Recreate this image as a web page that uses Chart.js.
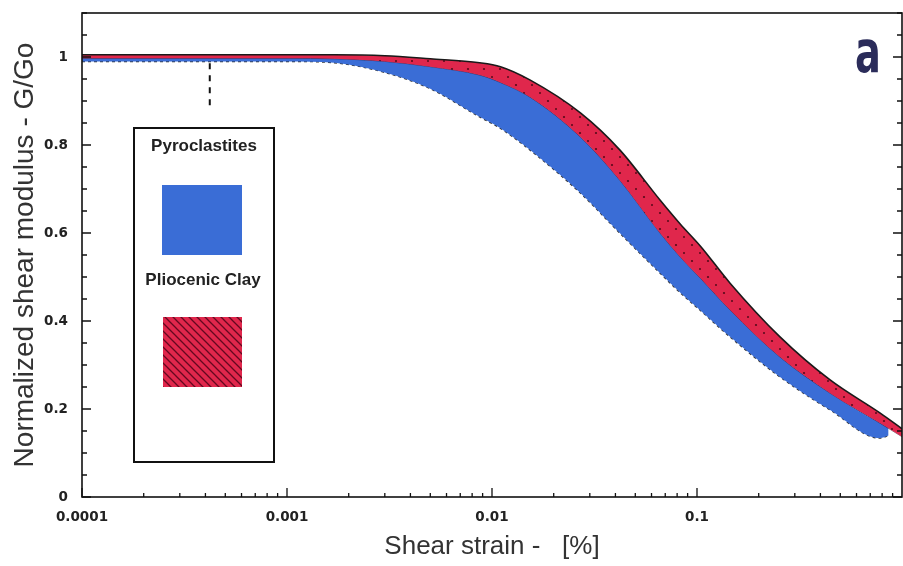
<!DOCTYPE html>
<html>
<head>
<meta charset="utf-8">
<script src="https://cdn.jsdelivr.net/npm/chart.js@4.4.0/dist/chart.umd.min.js"></script>
<style>
  html, body { margin: 0; padding: 0; background: #fff; }
  #wrap { width: 903px; height: 566px; }
</style>
</head>
<body>
<div id="wrap"><canvas id="chart" width="903" height="566"></canvas></div>
<script>
// Pliocenic clay band (red)
const clayStrain = [0.0001, 0.0003, 0.001, 0.0017, 0.003, 0.005, 0.0087, 0.011, 0.0153, 0.027, 0.042, 0.066, 0.083, 0.104, 0.145, 0.254, 0.446, 0.78, 1.0];
const clayUpper  = [1.005, 1.005, 1.005, 1.005, 1.003, 0.996, 0.987, 0.978, 0.948, 0.873, 0.789, 0.675, 0.62, 0.57, 0.486, 0.364, 0.266, 0.191, 0.155];
const clayLower  = [0.997, 0.997, 0.997, 0.996, 0.99, 0.978, 0.959, 0.942, 0.909, 0.818, 0.72, 0.60, 0.545, 0.497, 0.425, 0.318, 0.236, 0.168, 0.137];

// Pyroclastites band (blue)
const pyroStrain = [0.0001, 0.0003, 0.001, 0.0017, 0.003, 0.005, 0.0087, 0.011, 0.0153, 0.027, 0.042, 0.066, 0.083, 0.104, 0.145, 0.254, 0.446, 0.78, 0.86];
const pyroUpper  = [0.997, 0.997, 0.997, 0.996, 0.99, 0.978, 0.959, 0.942, 0.909, 0.818, 0.72, 0.60, 0.545, 0.497, 0.425, 0.318, 0.236, 0.168, 0.158];
const pyroLower  = [0.99, 0.99, 0.99, 0.987, 0.965, 0.928, 0.864, 0.838, 0.789, 0.691, 0.60, 0.509, 0.464, 0.424, 0.364, 0.273, 0.198, 0.134, 0.14];

// short dashed marker near the top left
const markerStrain = [0.00042, 0.00042];
const markerG      = [0.986, 0.879];

const xTicks = [0.0001, 0.001, 0.01, 0.1];
const xTickLabels = ['0.0001', '0.001', '0.01', '0.1'];
const yTicks = [0, 0.2, 0.4, 0.6, 0.8, 1];
const yTickLabels = ['0', '0.2', '0.4', '0.6', '0.8', '1'];

const BLUE = '#3a6dd6';
const RED = '#e0274c';

const toPoints = (xs, ys) => xs.map((x, i) => ({ x: x, y: ys[i] }));

function dotPattern() {
    const c = document.createElement('canvas');
    c.width = 16; c.height = 16;
    const g = c.getContext('2d');
    g.fillStyle = RED;
    g.fillRect(0, 0, 16, 16);
    g.fillStyle = 'rgba(40,0,10,0.75)';
    g.beginPath(); g.arc(4, 5, 1.1, 0, Math.PI * 2); g.fill();
    g.beginPath(); g.arc(12, 13, 1.0, 0, Math.PI * 2); g.fill();
    return g.createPattern(c, 'repeat');
}

function stripePattern() {
    const c = document.createElement('canvas');
    c.width = 8; c.height = 8;
    const g = c.getContext('2d');
    g.fillStyle = RED;
    g.fillRect(0, 0, 8, 8);
    g.strokeStyle = 'rgba(70,0,20,0.8)';
    g.lineWidth = 1.3;
    g.beginPath();
    g.moveTo(-2, -2); g.lineTo(10, 10);
    g.moveTo(-2, 6); g.lineTo(2, 10);
    g.moveTo(6, -2); g.lineTo(10, 2);
    g.stroke();
    return g.createPattern(c, 'repeat');
}

// frame + inward ticks, like the original plot
const frameTicks = {
    id: 'frameTicks',
    afterDatasetsDraw(chart) {
        const { ctx, chartArea: a, scales: { x, y } } = chart;
        ctx.save();
        ctx.strokeStyle = '#111';
        ctx.lineWidth = 1.6;
        ctx.strokeRect(a.left, a.top, a.right - a.left, a.bottom - a.top);

        ctx.lineWidth = 1.3;
        ctx.beginPath();
        for (let k = 0; k <= 22; k++) {
            const py = y.getPixelForValue(k * 0.05);
            const len = k % 4 === 0 ? 9 : 5;
            ctx.moveTo(a.left, py); ctx.lineTo(a.left + len, py);
            ctx.moveTo(a.right, py); ctx.lineTo(a.right - len, py);
        }
        for (let e = -4; e <= -1; e++) {
            for (let m = 1; m <= 9; m++) {
                const px = x.getPixelForValue(m * Math.pow(10, e));
                const len = m === 1 ? 9 : 4;
                ctx.moveTo(px, a.bottom); ctx.lineTo(px, a.bottom - len);
            }
        }
        ctx.stroke();
        ctx.restore();
    }
};

const legendBox = {
    id: 'legendBox',
    afterDraw(chart) {
        const ctx = chart.ctx;
        ctx.save();
        ctx.fillStyle = '#fff';
        ctx.fillRect(134, 128, 140, 334);
        ctx.strokeStyle = '#111';
        ctx.lineWidth = 2;
        ctx.strokeRect(134, 128, 140, 334);

        ctx.fillStyle = '#222';
        ctx.font = 'bold 17px "Liberation Sans", Arial, sans-serif';
        ctx.textAlign = 'center';
        ctx.textBaseline = 'middle';
        ctx.fillText('Pyroclastites', 204, 146);
        ctx.fillText('Pliocenic Clay', 203, 280);

        ctx.fillStyle = BLUE;
        ctx.fillRect(162, 185, 80, 70);
        ctx.fillStyle = stripePattern();
        ctx.fillRect(163, 317, 79, 70);

        // panel letter
        ctx.fillStyle = '#2b2c5a';
        ctx.font = 'bold 58px "DejaVu Sans", sans-serif';
        ctx.textAlign = 'left';
        ctx.textBaseline = 'alphabetic';
        ctx.translate(855, 72);
        ctx.scale(0.66, 1);
        ctx.fillText('a', 0, 0);
        ctx.restore();
    }
};

const tickFont = { family: '"DejaVu Sans", sans-serif', size: 13.5, weight: 'bold' };
const titleFont = { family: '"Liberation Sans", Arial, sans-serif', size: 26 };

const chart = new Chart(document.getElementById('chart').getContext('2d'), {
    type: 'line',
    data: {
        datasets: [
            {
                data: toPoints(markerStrain, markerG),
                borderColor: '#111',
                borderWidth: 2,
                borderDash: [6, 6],
                pointRadius: 0,
                fill: false
            },
            {
                label: 'Pliocenic Clay',
                data: toPoints(clayStrain, clayUpper),
                borderColor: '#1a1a1a',
                borderWidth: 1.6,
                backgroundColor: dotPattern(),
                pointRadius: 0,
                cubicInterpolationMode: 'monotone',
                fill: 2
            },
            {
                data: toPoints(clayStrain, clayLower),
                borderColor: 'rgba(30,20,40,0.55)',
                borderWidth: 1,
                pointRadius: 0,
                cubicInterpolationMode: 'monotone',
                fill: false
            },
            {
                label: 'Pyroclastites',
                data: toPoints(pyroStrain, pyroUpper),
                borderColor: BLUE,
                borderWidth: 1,
                backgroundColor: BLUE,
                pointRadius: 0,
                cubicInterpolationMode: 'monotone',
                fill: 4
            },
            {
                data: toPoints(pyroStrain, pyroLower),
                borderColor: '#333',
                borderWidth: 1.5,
                borderDash: [3, 3],
                pointRadius: 0,
                cubicInterpolationMode: 'monotone',
                fill: false
            }
        ]
    },
    options: {
        responsive: false,
        animation: false,
        layout: { padding: { left: 0, right: 1, top: 13, bottom: 0 } },
        plugins: {
            legend: { display: false },
            tooltip: { enabled: false }
        },
        scales: {
            x: {
                type: 'logarithmic',
                min: 0.0001,
                max: 1,
                grid: { display: false, drawTicks: false },
                border: { display: false },
                afterBuildTicks: (scale) => { scale.ticks = xTicks.map(v => ({ value: v })); },
                afterFit: (scale) => { scale.height = 69; },
                ticks: {
                    padding: 12,
                    color: '#222',
                    font: tickFont,
                    maxRotation: 0,
                    autoSkip: false,
                    callback: (value) => xTickLabels[xTicks.indexOf(value)] ?? ''
                },
                title: {
                    display: true,
                    text: 'Shear strain -   [%]',
                    color: '#333',
                    font: titleFont,
                    padding: { top: 0, bottom: 4 }
                }
            },
            y: {
                min: 0,
                max: 1.1,
                grid: { display: false, drawTicks: false },
                border: { display: false },
                afterBuildTicks: (scale) => { scale.ticks = yTicks.map(v => ({ value: v })); },
                afterFit: (scale) => {
                    scale.width = 82;
                    scale.paddingTop = 0;
                    scale.paddingBottom = 0;
                },
                ticks: {
                    padding: 14,
                    color: '#222',
                    font: tickFont,
                    callback: (value) => yTickLabels[yTicks.indexOf(value)] ?? ''
                },
                title: {
                    display: true,
                    text: 'Normalized shear modulus - G/Go',
                    color: '#333',
                    font: { family: '"Liberation Sans", Arial, sans-serif', size: 28 },
                    padding: { top: 8, bottom: 0 }
                }
            }
        }
    },
    plugins: [frameTicks, legendBox]
});
</script>
</body>
</html>
